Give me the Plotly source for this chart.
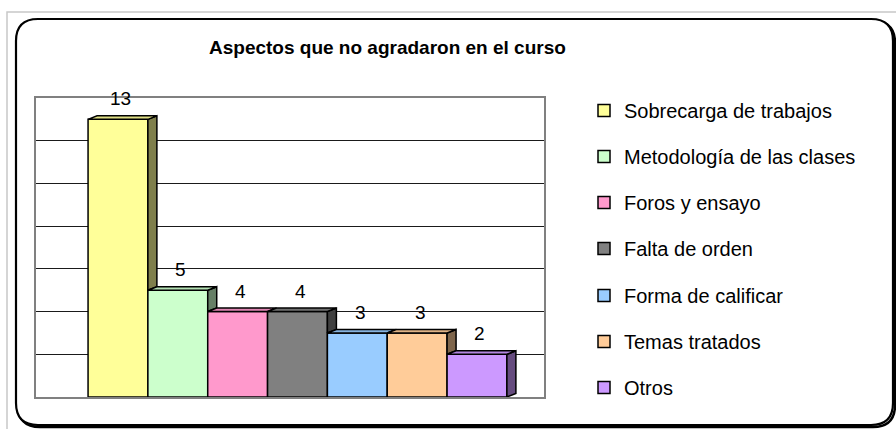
import plotly.graph_objects as go

# ---- data ----
categories = ["Sobrecarga de trabajos", "Metodología de las clases", "Foros y ensayo",
              "Falta de orden", "Forma de calificar", "Temas tratados", "Otros"]
values = [13, 5, 4, 4, 3, 3, 2]
front_colors = ["#FFFF99", "#CCFFCC", "#FF99CC", "#808080", "#99CCFF", "#FFCC99", "#CC99FF"]
title_text = "Aspectos que no agradaron en el curso"

# ---- layout geometry ----
W, H = 896, 429
ML, MR, MT, MB = 36, 352, 98, 32
PW = W - ML - MR
PH = H - MT - MB
X_RANGE = [-1.37, 7.12]
Y_RANGE = [0, 14]
px_per_x = PW / (X_RANGE[1] - X_RANGE[0])
px_per_y = PH / (Y_RANGE[1] - Y_RANGE[0])
DX = 9 / px_per_x      # 3D depth, horizontal
DY = 3.5 / px_per_y    # 3D depth, vertical
FONT = "Liberation Sans, Arial, sans-serif"
LEGEND_SPLIT = 4       # first 4 entries in legend 1, rest in legend 2


def shade(hexc, f):
    h = hexc.lstrip("#")
    r, g, b = (int(h[i:i + 2], 16) for i in (0, 2, 4))
    return "#%02X%02X%02X" % (int(r * f), int(g * f), int(b * f))


def px2x(px):
    return (px - ML) / PW


def py2y(py):
    return (H - MB - py) / PH


fig = go.Figure()

xs = list(range(len(categories)))

# front faces (bars) - also provide legend entries
for i, (cat, v, col) in enumerate(zip(categories, values, front_colors)):
    fig.add_trace(go.Bar(
        x=[xs[i]], y=[v], width=1, name=cat, legendgroup=cat,
        legend="legend" if i < LEGEND_SPLIT else "legend2",
        marker=dict(color=col, line=dict(color="#000000", width=1.5)),
        hoverinfo="skip",
    ))

# side and top faces
for i, (v, col) in enumerate(zip(values, front_colors)):
    xl, xr = xs[i] - 0.5, xs[i] + 0.5
    nxt = values[i + 1] if i + 1 < len(values) else 0
    if v > nxt:
        fig.add_trace(go.Scatter(
            x=[xr, xr + DX, xr + DX, xr, xr],
            y=[nxt, nxt + DY, v + DY, v, nxt],
            mode="lines", fill="toself", fillcolor=shade(col, 0.5),
            line=dict(color="#000000", width=1.5), showlegend=False, hoverinfo="skip"))
    fig.add_trace(go.Scatter(
        x=[xl, xl + DX, xr + DX, xr, xl],
        y=[v, v + DY, v + DY, v, v],
        mode="lines", fill="toself", fillcolor=shade(col, 0.88),
        line=dict(color="#000000", width=1.5), showlegend=False, hoverinfo="skip"))

# value labels
for i, v in enumerate(values):
    fig.add_annotation(x=xs[i], y=v, text=str(v), showarrow=False,
                       xanchor="center", yanchor="bottom", xshift=3, yshift=8,
                       font=dict(family=FONT, size=19, color="#000000"))

# title
fig.add_annotation(x=px2x(387), y=py2y(48), xref="paper", yref="paper",
                   text="<b>" + title_text + "</b>", showarrow=False,
                   xanchor="center", yanchor="middle",
                   font=dict(family=FONT, size=19, color="#000000"))

# outer frame shapes
shapes = []
shapes.append(dict(type="rect", xref="paper", yref="paper",
                   x0=px2x(7), y0=py2y(440), x1=px2x(910), y1=py2y(12),
                   line=dict(color="#C8C8C8", width=1.5), layer="below"))


def rounded(x0, y0, x1, y1, r):
    return ("M %f,%f L %f,%f Q %f,%f %f,%f L %f,%f Q %f,%f %f,%f "
            "L %f,%f Q %f,%f %f,%f L %f,%f Q %f,%f %f,%f Z" % (
                px2x(x0 + r), py2y(y0), px2x(x1 - r), py2y(y0),
                px2x(x1), py2y(y0), px2x(x1), py2y(y0 + r),
                px2x(x1), py2y(y1 - r),
                px2x(x1), py2y(y1), px2x(x1 - r), py2y(y1),
                px2x(x0 + r), py2y(y1),
                px2x(x0), py2y(y1), px2x(x0), py2y(y1 - r),
                px2x(x0), py2y(y0 + r),
                px2x(x0), py2y(y0), px2x(x0 + r), py2y(y0)))


shapes.append(dict(type="path", xref="paper", yref="paper",
                   path=rounded(18, 21, 895, 427, 22),
                   line=dict(color="#000000", width=2.5), layer="below"))
shapes.append(dict(type="path", xref="paper", yref="paper",
                   path=rounded(16, 19, 893, 425, 22),
                   line=dict(color="#000000", width=2.2), fillcolor="#FFFFFF", layer="below"))

legend_common = dict(xanchor="left", yanchor="top", tracegroupgap=17, traceorder="grouped",
                     font=dict(family=FONT, size=20, color="#000000"),
                     bgcolor="rgba(0,0,0,0)", itemclick=False, itemdoubleclick=False)

fig.update_layout(
    width=W, height=H,
    margin=dict(l=ML, r=MR, t=MT, b=MB, pad=0),
    paper_bgcolor="#FFFFFF",
    plot_bgcolor="#E0E0E0",
    barmode="overlay",
    shapes=shapes,
    showlegend=True,
    legend=dict(x=px2x(584), y=py2y(91), **legend_common),
    legend2=dict(x=px2x(584), y=py2y(276), **legend_common),
    xaxis=dict(range=X_RANGE, showticklabels=False, showgrid=False, zeroline=False,
               showline=True, mirror=True, linecolor="#808080", linewidth=2, ticks=""),
    yaxis=dict(range=Y_RANGE, dtick=2, showticklabels=False, showgrid=True,
               gridcolor="#1A1A1A", gridwidth=1, zeroline=False,
               showline=True, mirror=True, linecolor="#808080", linewidth=2, ticks=""),
    font=dict(family=FONT),
)

fig.write_html("out.html", config={"displayModeBar": False},
               post_script="document.body.style.margin='0px';document.body.style.padding='0px';")
